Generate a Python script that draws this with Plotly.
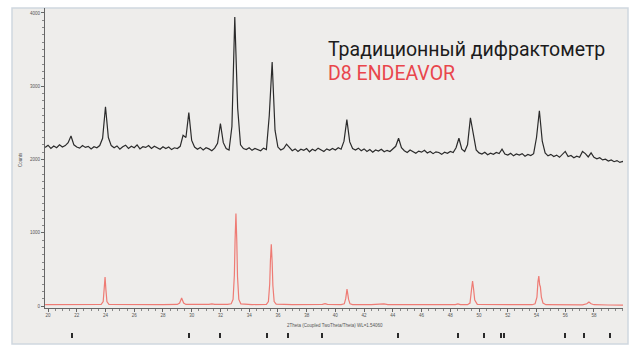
import numpy as np
import plotly.graph_objects as go

# ---------------- data ----------------
# measured scan (black), sampled every 0.2 deg 2Theta starting at 19.8
black_start_2theta = 19.8
black_step_2theta = 0.2
black_counts = [
    2165, 2195, 2150, 2185, 2160, 2200, 2170, 2190, 2230, 2320,
    2200, 2170, 2155, 2190, 2165, 2180, 2145, 2175, 2160, 2190,
    2290, 2720, 2300, 2190, 2160, 2185, 2140, 2175, 2195, 2150,
    2180, 2160, 2200, 2145, 2175, 2165, 2190, 2150, 2180, 2160,
    2140, 2175, 2150, 2170, 2135, 2160, 2150, 2180, 2330, 2300,
    2640, 2260, 2170, 2140, 2165, 2130, 2160, 2145, 2120, 2155,
    2220, 2490, 2230, 2150, 2130, 2450, 3944, 2700, 2200, 2150,
    2135, 2160, 2125, 2150, 2140, 2120, 2155, 2135, 2600, 3330,
    2400, 2170, 2130, 2150, 2210, 2160, 2120, 2145, 2110, 2140,
    2125, 2150, 2105, 2140, 2120, 2155, 2130, 2110, 2145, 2125,
    2150, 2130, 2160, 2140, 2250, 2545, 2240, 2150, 2130, 2155,
    2120, 2145, 2110, 2135, 2100, 2130, 2115, 2140, 2105, 2125,
    2110, 2140, 2180, 2290, 2160, 2120, 2095, 2130, 2110, 2085,
    2115, 2100, 2125, 2090, 2110, 2080, 2105, 2095, 2070, 2100,
    2085, 2110, 2095, 2160, 2290, 2140, 2110, 2200, 2570, 2350,
    2130, 2090, 2075, 2100, 2065, 2085, 2070, 2095, 2080, 2140,
    2075, 2060, 2085, 2050, 2075, 2060, 2080, 2045, 2070, 2055,
    2080, 2300, 2666, 2250, 2090, 2050, 2070, 2040, 2060, 2030,
    2065, 2110, 2040, 2055, 2025, 2045, 2030, 2110, 2080, 2035,
    2090, 2030, 2010, 2025, 1995, 2005, 1980, 1995, 1970, 1985,
    1960, 1975, 1950,
]

# calculated pattern (red)
red_2theta = [
    19.8, 21.0, 22.0, 23.0, 23.7, 23.84, 23.91, 23.97, 24.03, 24.10,
    24.24, 25.0, 26.5, 28.0, 29.0, 29.16, 29.24, 29.30, 29.36, 29.44,
    29.6, 30.5, 31.2, 31.41, 31.6, 32.5, 32.75, 32.88, 32.97, 33.02,
    33.08, 33.14, 33.19, 33.28, 33.42, 34.2, 35.2, 35.34, 35.43, 35.48,
    35.54, 35.60, 35.65, 35.74, 35.88, 37.0, 38.5, 39.1, 39.28, 39.45,
    40.4, 40.62, 40.72, 40.77, 40.81, 40.86, 40.92, 41.02, 41.2, 42.5,
    43.1, 43.38, 43.65, 45.5, 47.5, 48.35, 48.53, 48.7, 49.2, 49.37,
    49.45, 49.50, 49.55, 49.61, 49.70, 49.88, 51.0, 52.5, 53.7, 53.9,
    54.03, 54.10, 54.16, 54.22, 54.27, 54.34, 54.45, 54.65, 55.8, 57.2,
    57.5, 57.65, 57.8, 58.0, 59.0, 60.2,
]
red_counts = [
    18, 20, 18, 20, 22, 60, 210, 394, 220, 60,
    22, 20, 18, 20, 22, 40, 80, 109, 80, 40,
    22, 20, 22, 30, 22, 22, 30, 90, 420, 900,
    1261, 880, 400, 90, 30, 20, 22, 60, 300, 620,
    843, 600, 280, 60, 25, 20, 20, 22, 32, 22,
    20, 30, 100, 180, 231, 170, 90, 30, 20, 18,
    20, 30, 20, 18, 18, 20, 30, 20, 18, 40,
    180, 300, 340, 250, 80, 22, 18, 16, 18, 30,
    120, 330, 408, 290, 260, 120, 40, 18, 16, 16,
    30, 55, 30, 18, 14, 12,
]

# reference stick pattern (bottom band)
stick_2theta = [21.67, 29.81, 31.97, 35.24, 36.70, 39.07, 44.36, 48.53,
                50.34, 51.52, 51.73, 55.98, 57.30, 59.11]

y_tick_values = [0, 1000, 2000, 3000, 4000]
y_tick_labels = ["0", "1000", "2000", "3000", "4000"]
x_tick_values = list(range(20, 60, 2))
x_tick_labels = [str(v) for v in x_tick_values]

title_line1 = "Традиционный дифрактометр"
title_line2 = "D8 ENDEAVOR"
x_title = "2Theta (Coupled TwoTheta/Theta) WL=1.54060"
y_title = "Counts"

assert len(red_2theta) == len(red_counts)

black_2theta = [round(black_start_2theta + black_step_2theta * i, 2)
                for i in range(len(black_counts))]

# ---------------- figure ----------------
W, H = 631, 347


def fx(p):
    return p / W


def fy(p):
    return 1 - p / H


fig = go.Figure()

fig.add_trace(go.Scatter(
    x=black_2theta, y=black_counts, mode="lines",
    line=dict(color="#2b2b2b", width=1.2), hoverinfo="skip",
    xaxis="x", yaxis="y"))

fig.add_trace(go.Scatter(
    x=red_2theta, y=red_counts, mode="lines",
    line=dict(color="#ee7b74", width=1.2), hoverinfo="skip",
    xaxis="x", yaxis="y"))

fig.add_trace(go.Bar(
    x=stick_2theta, y=[0.66] * len(stick_2theta), base=0.17, width=0.11,
    marker=dict(color="#2a2a2a", line=dict(width=0)), hoverinfo="skip",
    xaxis="x2", yaxis="y2"))

x_dom = [fx(45), fx(623)]
x_range = [19.79, 60.02]
tick_font = dict(family="Liberation Sans, Arial, sans-serif", size=4.5, color="#555")

fig.update_layout(
    width=W, height=H,
    margin=dict(l=0, r=0, t=0, b=0),
    paper_bgcolor="white",
    plot_bgcolor="white",
    showlegend=False,
    xaxis=dict(
        domain=x_dom, range=x_range, anchor="y",
        tickmode="array", tickvals=x_tick_values, ticktext=x_tick_labels,
        ticks="outside", ticklen=3, tickwidth=1, tickcolor="#666",
        minor=dict(dtick=0.5, ticks="outside", ticklen=2, tickcolor="#888", showgrid=False),
        showline=True, linecolor="#666", linewidth=1, showgrid=False, zeroline=False,
        tickfont=tick_font,
    ),
    yaxis=dict(
        domain=[fy(308), fy(8)], range=[-27, 4068], anchor="x",
        tickmode="array", tickvals=y_tick_values, ticktext=y_tick_labels,
        ticks="outside", ticklen=3, tickwidth=1, tickcolor="#666",
        minor=dict(dtick=100, ticks="outside", ticklen=2, tickcolor="#888", showgrid=False),
        showline=True, linecolor="#666", linewidth=1, showgrid=False, zeroline=False,
        tickfont=tick_font,
    ),
    xaxis2=dict(domain=x_dom, range=x_range, anchor="y2", matches="x",
                showticklabels=False, showgrid=False, zeroline=False, showline=False,
                ticks=""),
    yaxis2=dict(domain=[fy(340), fy(331)], range=[0, 1], anchor="x2",
                showticklabels=False, showgrid=False, zeroline=False, showline=False,
                ticks=""),
    bargap=0,
)

# panel frame behind the plot
fig.add_shape(type="rect", xref="paper", yref="paper",
              x0=fx(12), x1=fx(628), y0=fy(344), y1=fy(8),
              fillcolor="#eeedeb", line=dict(color="#d0d7df", width=1.5),
              layer="below")

fig.add_annotation(text=title_line1, xref="paper", yref="paper",
                   x=fx(326), y=fy(50), xanchor="left", yanchor="middle",
                   showarrow=False,
                   font=dict(family="Roboto", size=19.5, color="#1c1c1c"))
fig.add_annotation(text=title_line2, xref="paper", yref="paper",
                   x=fx(326), y=fy(73), xanchor="left", yanchor="middle",
                   showarrow=False,
                   font=dict(family="Roboto", size=19.5, color="#e9464c"))
fig.add_annotation(text=x_title, xref="paper", yref="paper",
                   x=fx(335), y=fy(325), xanchor="center", yanchor="middle",
                   showarrow=False, font=tick_font)
fig.add_annotation(text=y_title, xref="paper", yref="paper",
                   x=fx(20), y=fy(160), xanchor="center", yanchor="middle",
                   textangle=-90, showarrow=False, font=tick_font)

fig.write_html("out.html",
               config={"displayModeBar": False, "staticPlot": True},
               post_script="document.body.style.margin='0';document.body.style.overflow='hidden';")
